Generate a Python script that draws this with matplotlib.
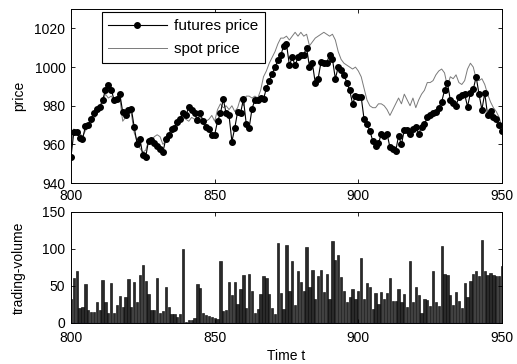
import numpy as np
import matplotlib
matplotlib.use("Agg")
import matplotlib.pyplot as plt

plt.rcParams['font.family'] = ['Liberation Sans', 'DejaVu Sans']
plt.rcParams['font.size'] = 10

t = list(range(800, 951))

futures_price = [
    953.5, 966.5, 966.4, 963.5, 962.6, 969.3, 969.8, 973.3, 976.2, 978.5,   # 800-809
    979.3, 983.0, 988.0, 990.5, 988.3, 983.1, 983.5, 986.2, 976.7, 975.0,   # 810-819
    977.6, 978.5, 969.0, 960.4, 963.0, 954.3, 953.5, 962.0, 962.4, 960.6,   # 820-829
    959.0, 957.5, 956.0, 963.0, 965.0, 968.0, 968.6, 971.6, 973.0, 976.2,   # 830-839
    975.0, 979.3, 978.0, 976.0, 972.4, 976.0, 972.0, 969.0, 968.0, 965.0,   # 840-849
    965.0, 972.0, 976.0, 983.5, 976.0, 975.0, 961.5, 968.5, 977.0, 976.0,   # 850-859
    983.5, 970.5, 968.5, 978.5, 983.0, 983.0, 984.0, 983.5, 989.0, 993.0,   # 860-869
    996.5, 1000.0, 1003.5, 1006.0, 1011.0, 1012.0, 1001.0, 1005.0, 1001.0, 1005.0,  # 870-879
    1006.5, 1006.5, 1010.0, 1000.0, 1002.0, 992.0, 994.0, 1002.5, 1002.0, 1002.0,   # 880-889
    1006.5, 1004.0, 994.0, 1000.0, 998.5, 996.0, 992.0, 988.0, 981.0, 985.0,        # 890-899
    984.5, 984.5, 973.0, 970.5, 967.0, 962.0, 959.0, 960.5, 965.5, 964.5,   # 900-909
    965.5, 958.5, 957.5, 956.5, 964.5, 960.0, 967.5, 967.5, 965.5, 968.0,   # 910-919
    969.0, 965.5, 969.0, 970.5, 974.0, 975.0, 976.0, 977.0, 979.0, 982.0,   # 920-929
    988.0, 992.0, 983.0, 981.5, 980.0, 984.5, 985.5, 986.0, 979.5, 986.5,   # 930-939
    988.5, 995.0, 986.0, 978.0, 986.5, 975.0, 977.5, 974.0, 973.0, 970.0,   # 940-949
    967.0,                                                                   # 950
]

spot_price = [
    959, 968, 966, 966, 964, 967, 969, 971, 973, 976,        # 800-809
    978, 982, 986, 984, 985, 983, 982, 984, 972, 974,        # 810-819
    978, 976, 966, 962, 958, 956, 957, 962, 962, 964,        # 820-829
    965, 964, 960, 962, 965, 966, 967, 969, 972, 974,        # 830-839
    973, 972, 974, 973, 972, 974, 973, 972, 973, 975,        # 840-849
    972, 978, 981, 979, 980, 978, 980, 977, 979, 984,        # 850-859
    980, 985, 985, 984, 985, 984, 988, 995, 998, 1002,       # 860-869
    1005, 1008, 1012, 1015, 1015, 1016, 1014, 1016, 1018, 1016,  # 870-879
    1018, 1016, 1017, 1011, 1013, 1015, 1016, 1017, 1018, 1017,  # 880-889
    1016, 1017, 1014, 1008, 1004, 1002, 1001, 1000, 999, 1000,   # 890-899
    998, 995, 989, 983, 980, 979, 979, 981, 981, 980,        # 900-909
    978, 975, 978, 981, 984, 981, 986, 983, 980, 984,        # 910-919
    979, 983, 986, 988, 992, 992, 993, 996, 998, 999,        # 920-929
    997, 990, 995, 994, 996, 992, 991, 993, 999, 1002,       # 930-939
    1000, 994, 993, 994, 991, 986, 982, 979, 977, 974,       # 940-949
    969,                                                     # 950
]

trading_volume = [
    32, 60, 70, 20, 22, 52, 18, 15, 15, 28,        # 800-809
    18, 58, 28, 14, 54, 14, 24, 36, 22, 35,        # 810-819
    59, 22, 55, 28, 64, 78, 57, 39, 18, 18,        # 820-829
    60, 13, 16, 49, 22, 12, 12, 8, 12, 100,        # 830-839
    1.5, 4.5, 4.5, 7, 52, 47, 14, 11, 9, 8,        # 840-849
    6, 5, 84, 16, 17, 55, 38, 55, 26, 46,          # 850-859
    65, 20, 66, 43, 13, 19, 39, 63, 60, 39,        # 860-869
    20, 12, 108, 41, 19, 105, 43, 84, 24, 70,      # 870-879
    55, 43, 102, 49, 72, 32, 63, 72, 42, 66,       # 880-889
    32, 111, 85, 92, 62.6, 43.7, 28, 35, 46, 32.4, # 890-899
    43.7, 87, 32, 53.6, 49, 19, 41, 25.7, 42, 32,  # 900-909
    41, 60, 29, 29, 46, 28, 39, 21, 84, 28,        # 910-919
    48, 37, 14, 32, 30.6, 23.4, 70, 28, 23, 104,   # 920-929
    66, 65, 37, 24, 42, 29, 19.8, 53.6, 35.6, 57,  # 930-939
    66, 70, 63, 112, 70, 65, 67, 65, 63, 63,       # 940-949
    77.5,                                          # 950
]

x_ticks = [800, 850, 900, 950]
price_ticks = [940, 960, 980, 1000, 1020]
volume_ticks = [0, 50, 100, 150]

fig = plt.figure(figsize=(5.17, 3.64), dpi=100)
ax1 = fig.add_axes([0.1373, 0.497, 0.8337, 0.478])
ax2 = fig.add_axes([0.1373, 0.113, 0.8337, 0.305])

for ax in (ax1, ax2):
    ax.tick_params(direction='in', top=True, right=True, length=3, width=0.6,
                   labelsize=10, pad=4)
    for s in ax.spines.values():
        s.set_linewidth(0.7)
    ax.set_xlim(800, 950)
    ax.set_xticks(x_ticks)
ax2.tick_params(axis='x', pad=5.5)

ax1.plot(t, futures_price, color='black', lw=0.8, marker='o', ms=4.0,
         label='futures price', zorder=3)
ax1.plot(t, spot_price, color='#7a7a7a', lw=0.7, label='spot price', zorder=2)
ax1.set_ylim(940, 1030)
ax1.set_yticks(price_ticks)
ax1.set_ylabel('price')
ax1.yaxis.set_label_coords(-0.105, 0.5)
leg = ax1.legend(loc='upper left', bbox_to_anchor=(0.071, 0.982), frameon=True,
                 fancybox=False, framealpha=1, edgecolor='black', handlelength=3.8,
                 borderpad=0.45, labelspacing=0.6, handletextpad=0.5, fontsize=11,
                 borderaxespad=0)
leg.get_frame().set_linewidth(0.8)

ax2.bar(t, trading_volume, width=0.8, color='#2a2a2a', edgecolor='black',
        linewidth=0.4)
ax2.axhline(0, color='#000060', lw=0.8)
ax2.set_ylim(0, 150)
ax2.set_yticks(volume_ticks)
ax2.set_ylabel('trading-volume')
ax2.yaxis.set_label_coords(-0.105, 0.5)
ax2.set_xlabel('Time t', labelpad=3)

fig.savefig('out.png', dpi=100)
